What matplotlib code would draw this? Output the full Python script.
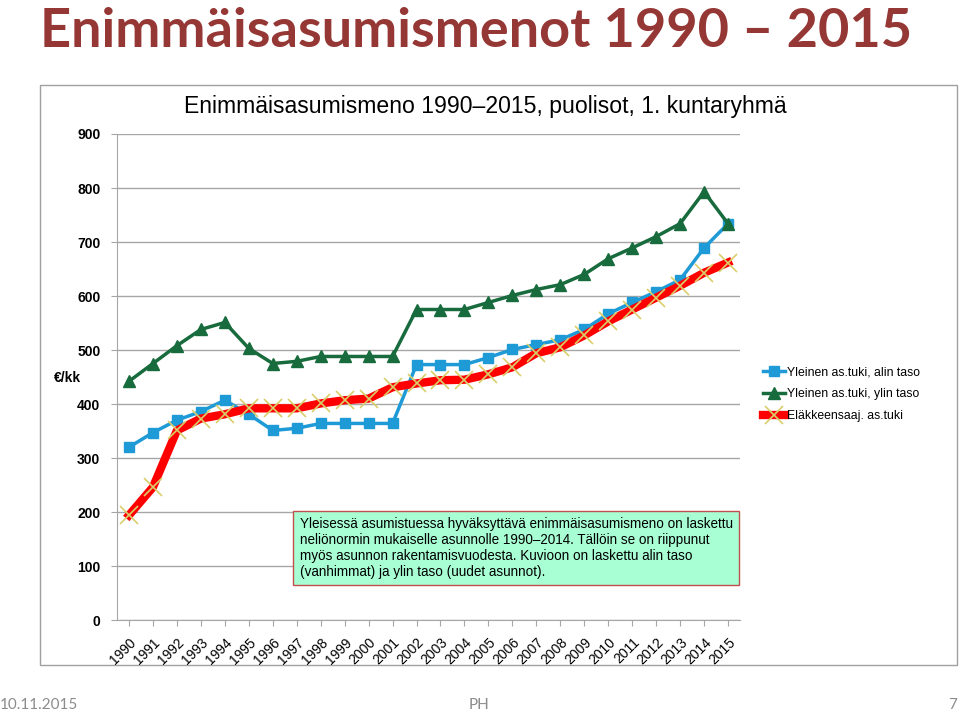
import matplotlib

matplotlib.use("Agg")
import matplotlib.pyplot as plt  # noqa: E402
from matplotlib.patches import Rectangle  # noqa: E402

# Vuodet ja sarjat (luettu kuvasta)
years = [str(y) for y in range(1990, 2016)]
alin_taso = [320, 347, 370, 386, 407, 381, 351, 355, 364, 364, 364, 364,
             473, 473, 473, 486, 501, 510, 519, 538, 567, 588, 608, 630, 689, 734]
ylin_taso = [442, 475, 508, 538, 551, 503, 475, 479, 488, 488, 488, 488,
             575, 575, 575, 588, 601, 612, 621, 640, 669, 689, 710, 734, 793, 734]
elakkeensaaj = [194, 246, 351, 373, 381, 392, 392, 392, 401, 407, 410, 431,
                438, 444, 445, 455, 468, 494, 505, 527, 553, 575, 597, 619, 643, 662]
y_ticks = [0, 100, 200, 300, 400, 500, 600, 700, 800, 900]

W, H = 960, 713
fig = plt.figure(figsize=(9.6, 7.13), dpi=100)
plt.rcParams["font.family"] = ["Liberation Sans", "DejaVu Sans"]

# Kaavioalueen reunus
fig.patches.append(Rectangle((40 / W, 1 - 665 / H), 917 / W, 580 / H,
                             transform=fig.transFigure, fill=False,
                             edgecolor="#a0a0a0", lw=1.0))

ax = fig.add_axes([117 / W, 1 - 620 / H, 623 / W, 486 / H])
x = list(range(len(years)))

ax.plot(x, alin_taso, color="#1e9ad6", lw=2.5, marker="s", ms=7,
        label="Yleinen as.tuki, alin taso", zorder=3)
ax.plot(x, ylin_taso, color="#176b3c", lw=2.5, marker="^", ms=8,
        label="Yleinen as.tuki, ylin taso", zorder=3)
ax.plot(x, elakkeensaaj, color="#ff0000", lw=6, marker="x", ms=13,
        mec="#d8cf6a", mew=1.2, label="Eläkkeensaaj. as.tuki", zorder=4)

ax.set_xlim(-0.5, len(years) - 0.5)
ax.set_ylim(0, 900)
ax.set_yticks(y_ticks)
ax.set_yticklabels([str(v) for v in y_ticks], fontsize=10, fontweight="bold")
ax.set_xticks(x)
ax.set_xticklabels(years, rotation=45, fontsize=10,
                   ha="right", rotation_mode="anchor")
ax.yaxis.grid(True, color="#a6a6a6", lw=1)
ax.set_axisbelow(True)
for side in ("top", "right"):
    ax.spines[side].set_visible(False)
for side in ("left", "bottom"):
    ax.spines[side].set_color("#a6a6a6")
ax.tick_params(axis="both", colors="#a6a6a6", labelcolor="black", length=4)
ax.tick_params(axis="y", pad=8)
ax.tick_params(axis="x", pad=7)

fig.text(68 / W, 1 - 378 / H, "€/kk", fontsize=10, fontweight="bold",
         ha="center", va="center")

ax.legend(loc="center left", bbox_to_anchor=(1.02, 0.465), frameon=False,
          fontsize=8.8, handlelength=1.8, handletextpad=0.1, labelspacing=0.8)

fig.text(485 / W, 1 - 107 / H,
         "Enimmäisasumismeno 1990\u20132015, puolisot, 1. kuntaryhmä",
         fontsize=16.6, ha="center", va="center")

ax.text(0.293, 0.148,
        "Yleisessä asumistuessa hyväksyttävä enimmäisasumismeno on laskettu\n"
        "neliönormin mukaiselle asunnolle 1990\u20132014. Tällöin se on riippunut\n"
        "myös asunnon rakentamisvuodesta. Kuvioon on laskettu alin taso\n"
        "(vanhimmat) ja ylin taso (uudet asunnot).",
        transform=ax.transAxes, fontsize=9.75, va="center", ha="left",
        linespacing=1.2, zorder=6,
        bbox=dict(boxstyle="square,pad=0.45", fc="#a9ffd4", ec="#c0504d", lw=1))

# Dian otsikko ja alatunniste
fig.text(40 / W, 1 - 47 / H, "Enimmäisasumismenot 1990 \u2013 2015",
         fontsize=39, color="#953735", fontweight="bold",
         family=["Lato", "DejaVu Sans"], ha="left", va="baseline")
fig.text(0, 1 - 705 / H, "10.11.2015", fontsize=11, color="#8c8c8c",
         ha="left", va="center", family=["Lato", "DejaVu Sans"])
fig.text(479 / W, 1 - 705 / H, "PH", fontsize=11, color="#8c8c8c",
         ha="center", va="center", family=["Lato", "DejaVu Sans"])
fig.text(957 / W, 1 - 705 / H, "7", fontsize=11, color="#8c8c8c",
         ha="right", va="center", family=["Lato", "DejaVu Sans"])

fig.savefig("out.png", dpi=100)
